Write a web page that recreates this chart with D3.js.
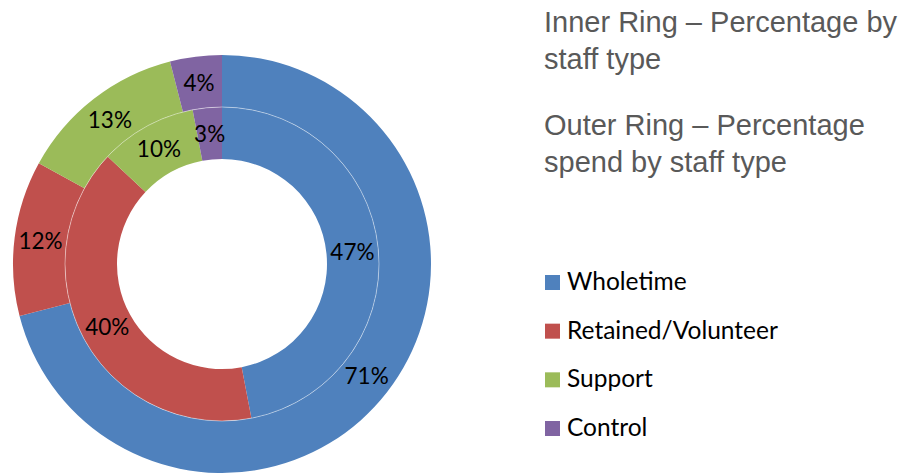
<!DOCTYPE html>
<html><head><meta charset="utf-8">
<script src="https://cdn.jsdelivr.net/npm/d3@7"></script>
<style>body{margin:0;background:#fff}svg{display:block}</style>
</head><body>
<svg id="c" width="907" height="474"></svg>
<script>
const categories = ["Wholetime","Retained/Volunteer","Support","Control"];
const innerValues = [47,40,10,3];   // percentage by staff type
const outerValues = [71,12,13,4];   // percentage spend by staff type
const colors = ["#4F81BD","#C0504D","#9BBB59","#8064A2"];
const titleLines = [["Inner Ring \u2013 Percentage by","staff type"],["Outer Ring \u2013 Percentage","spend by staff type"]];

const svg = d3.select("#c");
const cx = 222, cy = 264;
const rHole = 105, rMid = 157, rOuter = 209;
const g = svg.append("g").attr("transform",`translate(${cx},${cy})`);
const pie = d3.pie().sort(null).value(d=>d);
const color = d3.scaleOrdinal().domain(d3.range(categories.length)).range(colors);

function ring(values, r0, r1){
  const arc = d3.arc().innerRadius(r0).outerRadius(r1);
  const lab = d3.arc().innerRadius((r0+r1)/2).outerRadius((r0+r1)/2);
  const arcs = pie(values);
  const gg = g.append("g");
  gg.selectAll("path").data(arcs).join("path")
    .attr("d",arc).attr("fill",(d,i)=>color(i));
  gg.selectAll("text").data(arcs).join("text")
    .attr("transform",d=>`translate(${lab.centroid(d)})`)
    .attr("text-anchor","middle").attr("dy","0.36em")
    .style("font-family","Lato, 'Open Sans', sans-serif").style("font-size","22.5px")
    .attr("fill","#000").text(d=>d.data+"%");
}
ring(innerValues, rHole, rMid);
ring(outerValues, rMid, rOuter);
g.append("circle").attr("r",rMid).attr("fill","none").attr("stroke","#fff")
  .attr("stroke-opacity",0.55).attr("stroke-width",0.8);
g.selectAll("text").raise();

// titles
const tg = svg.append("g").style("font-family","'Liberation Sans', Arial, sans-serif")
  .style("font-size","29px").attr("fill","#595959");
const baselines = [[32,68.5],[135,171.5]];
titleLines.forEach((lines,bi)=>lines.forEach((t,li)=>{
  tg.append("text").attr("x",544).attr("y",baselines[bi][li]).text(t);
}));

// legend
const lg = svg.append("g").attr("transform","translate(545,275)");
const ly = d3.scalePoint().domain(categories).range([0,146]);
const items = lg.selectAll("g").data(categories).join("g")
  .attr("transform",d=>`translate(0,${ly(d)})`);
items.append("rect").attr("width",15).attr("height",15).attr("fill",(d,i)=>color(i));
items.append("text").attr("x",22).attr("y",15)
  .style("font-family","Lato, 'Open Sans', sans-serif").style("font-size","24.5px")
  .attr("fill","#000").text(d=>d);
</script>
</body></html>
